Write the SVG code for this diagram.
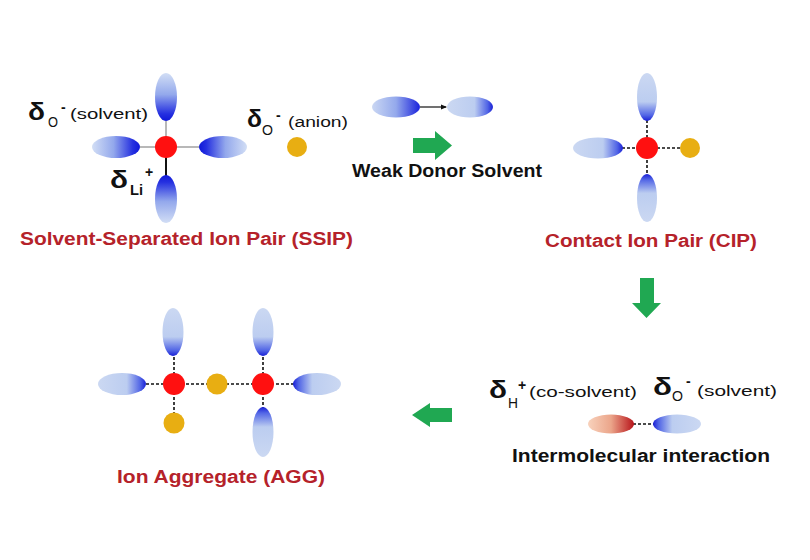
<svg xmlns="http://www.w3.org/2000/svg" width="810" height="560" viewBox="0 0 810 560">
<style>
.d{font-family:"Liberation Sans",Arial,sans-serif;font-weight:bold;font-size:24px;fill:#111}
.sb{font-family:"Liberation Sans",Arial,sans-serif;font-size:14px;fill:#111}
.sbb{font-family:"Liberation Sans",Arial,sans-serif;font-weight:bold;font-size:14px;fill:#111}
.lbl{font-family:"Liberation Sans",Arial,sans-serif;font-weight:bold;font-size:18px}
.red{fill:#b5222a}
.blk{fill:#111}
.li{fill:#ff1010}
.an{fill:#e8ae12}
.gray{stroke:#a0a0a0;stroke-width:1.5;fill:none}
.dash{stroke:#111;stroke-width:1.6;stroke-dasharray:3 2;fill:none}
.green{fill:#20a852}
</style>
<defs>
<linearGradient id="sR" x1="0" y1="0" x2="1" y2="0"><stop offset="0" stop-color="#d2def5"/><stop offset="0.45" stop-color="#93a8ec"/><stop offset="0.85" stop-color="#2530e0"/><stop offset="1" stop-color="#1018d8"/></linearGradient>
<linearGradient id="sL" x1="1" y1="0" x2="0" y2="0"><stop offset="0" stop-color="#d2def5"/><stop offset="0.45" stop-color="#93a8ec"/><stop offset="0.85" stop-color="#2530e0"/><stop offset="1" stop-color="#1018d8"/></linearGradient>
<linearGradient id="sB" x1="0" y1="0" x2="0" y2="1"><stop offset="0" stop-color="#d2def5"/><stop offset="0.45" stop-color="#93a8ec"/><stop offset="0.85" stop-color="#2530e0"/><stop offset="1" stop-color="#1018d8"/></linearGradient>
<linearGradient id="sT" x1="0" y1="1" x2="0" y2="0"><stop offset="0" stop-color="#d2def5"/><stop offset="0.45" stop-color="#93a8ec"/><stop offset="0.85" stop-color="#2530e0"/><stop offset="1" stop-color="#1018d8"/></linearGradient>
<linearGradient id="cR" x1="0" y1="0" x2="1" y2="0"><stop offset="0" stop-color="#cbd8f2"/><stop offset="0.6" stop-color="#bccdf0"/><stop offset="0.88" stop-color="#5266e6"/><stop offset="1" stop-color="#1a20d6"/></linearGradient>
<linearGradient id="cL" x1="1" y1="0" x2="0" y2="0"><stop offset="0" stop-color="#cbd8f2"/><stop offset="0.6" stop-color="#bccdf0"/><stop offset="0.88" stop-color="#5266e6"/><stop offset="1" stop-color="#1a20d6"/></linearGradient>
<linearGradient id="cB" x1="0" y1="0" x2="0" y2="1"><stop offset="0" stop-color="#cbd8f2"/><stop offset="0.6" stop-color="#bccdf0"/><stop offset="0.88" stop-color="#5266e6"/><stop offset="1" stop-color="#1a20d6"/></linearGradient>
<linearGradient id="cT" x1="0" y1="1" x2="0" y2="0"><stop offset="0" stop-color="#cbd8f2"/><stop offset="0.6" stop-color="#bccdf0"/><stop offset="0.88" stop-color="#5266e6"/><stop offset="1" stop-color="#1a20d6"/></linearGradient>
<linearGradient id="mR" x1="0" y1="0" x2="1" y2="0"><stop offset="0" stop-color="#cad7f3"/><stop offset="0.5" stop-color="#94a9ec"/><stop offset="1" stop-color="#1a22dc"/></linearGradient>
<linearGradient id="rR" x1="0" y1="0" x2="1" y2="0"><stop offset="0" stop-color="#f8d2bc"/><stop offset="0.5" stop-color="#eba58a"/><stop offset="1" stop-color="#b8141a"/></linearGradient>
<marker id="ah" markerWidth="6" markerHeight="6" refX="5" refY="3" orient="auto" markerUnits="userSpaceOnUse"><path d="M0,0.5 L6,3 L0,5.5 Z" fill="#111"/></marker>
</defs>
<rect width="810" height="560" fill="#fff"/>

<g id="ssip">
<line class="gray" x1="140" y1="147" x2="199" y2="147"/>
<line class="gray" x1="166" y1="121" x2="166" y2="147"/>
<line x1="166" y1="147" x2="166" y2="176" stroke="#111" stroke-width="2"/>
<ellipse cx="166" cy="97" rx="11" ry="24" fill="url(#sB)"/>
<ellipse cx="116" cy="147" rx="24" ry="11" fill="url(#sR)"/>
<ellipse cx="223" cy="147" rx="24" ry="11" fill="url(#sL)"/>
<ellipse cx="166" cy="199" rx="11" ry="24" fill="url(#sT)"/>
<circle class="li" cx="166" cy="147" r="11"/>
<text class="d" x="28" y="120" textLength="17" lengthAdjust="spacingAndGlyphs">δ</text>
<text class="sb" x="48" y="127" textLength="10" lengthAdjust="spacingAndGlyphs">O</text>
<text class="sbb" x="61" y="112">-</text>
<text class="sb" x="70" y="119" textLength="78" lengthAdjust="spacingAndGlyphs">(solvent)</text>
<text class="d" x="110" y="188" textLength="18" lengthAdjust="spacingAndGlyphs">δ</text>
<text class="sbb" x="130" y="195" font-size="15" textLength="13" lengthAdjust="spacingAndGlyphs">Li</text>
<text class="sbb" x="145" y="177">+</text>
<text class="lbl red" x="20" y="245" textLength="333" lengthAdjust="spacingAndGlyphs">Solvent-Separated Ion Pair (SSIP)</text>
</g>

<g id="anion">
<circle class="an" cx="297" cy="147" r="10"/>
<text class="d" x="247" y="127" textLength="15" lengthAdjust="spacingAndGlyphs">δ</text>
<text class="sb" x="262" y="135" textLength="11" lengthAdjust="spacingAndGlyphs">O</text>
<text class="sbb" x="276" y="120">-</text>
<text class="sb" x="288" y="127" textLength="60" lengthAdjust="spacingAndGlyphs">(anion)</text>
</g>

<g id="weak-donor">
<ellipse cx="396" cy="107" rx="24" ry="10.5" fill="url(#mR)"/>
<ellipse cx="470" cy="107" rx="23" ry="10.5" fill="url(#cR)"/>
<line x1="420" y1="107" x2="446" y2="107" stroke="#111" stroke-width="1.2" marker-end="url(#ah)"/>
<text class="lbl blk" x="352" y="177" textLength="190" lengthAdjust="spacingAndGlyphs">Weak Donor Solvent</text>
</g>

<g id="cip">
<line class="dash" x1="647" y1="120" x2="647" y2="175"/>
<line class="dash" x1="622" y1="148" x2="681" y2="148"/>
<ellipse cx="647" cy="97" rx="10" ry="24" fill="url(#cB)"/>
<ellipse cx="598" cy="148" rx="25" ry="10.5" fill="url(#cR)"/>
<ellipse cx="647" cy="198" rx="10" ry="24" fill="url(#cT)"/>
<circle class="li" cx="647" cy="148" r="11"/>
<circle class="an" cx="690" cy="148" r="10"/>
<text class="lbl red" x="545" y="247" textLength="212" lengthAdjust="spacingAndGlyphs">Contact Ion Pair (CIP)</text>
</g>

<g id="intermolecular">
<line class="dash" x1="633" y1="424" x2="654" y2="424"/>
<ellipse cx="611" cy="424" rx="23" ry="9.5" fill="url(#rR)"/>
<ellipse cx="677" cy="424" rx="24" ry="9.5" fill="url(#cL)"/>
<text class="d" x="489" y="398" textLength="18" lengthAdjust="spacingAndGlyphs">δ</text>
<text class="sb" x="508" y="408" textLength="10" lengthAdjust="spacingAndGlyphs">H</text>
<text class="sbb" x="518" y="390">+</text>
<text class="sb" x="529" y="397" textLength="108" lengthAdjust="spacingAndGlyphs">(co-solvent)</text>
<text class="d" x="653" y="395" textLength="19" lengthAdjust="spacingAndGlyphs">δ</text>
<text class="sb" x="672" y="401" textLength="11" lengthAdjust="spacingAndGlyphs">O</text>
<text class="sbb" x="686" y="386">-</text>
<text class="sb" x="697" y="396" textLength="80" lengthAdjust="spacingAndGlyphs">(solvent)</text>
<text class="lbl blk" x="512" y="462" font-size="17" textLength="258" lengthAdjust="spacingAndGlyphs">Intermolecular interaction</text>
</g>

<g id="agg">
<line class="dash" x1="146" y1="384" x2="294" y2="384"/>
<line class="dash" x1="174" y1="357" x2="174" y2="414"/>
<line class="dash" x1="263" y1="357" x2="263" y2="408"/>
<ellipse cx="122" cy="384" rx="24" ry="11" fill="url(#cR)"/>
<ellipse cx="173" cy="332" rx="10.5" ry="24" fill="url(#cB)"/>
<ellipse cx="263" cy="332" rx="10.5" ry="24" fill="url(#cB)"/>
<ellipse cx="317" cy="384" rx="24" ry="11" fill="url(#cL)"/>
<ellipse cx="263" cy="432" rx="10.5" ry="25" fill="url(#cT)"/>
<circle class="li" cx="174" cy="384" r="11"/>
<circle class="an" cx="217" cy="384" r="10.5"/>
<circle class="li" cx="263" cy="384" r="11"/>
<circle class="an" cx="174" cy="423" r="10.5"/>
<text class="lbl red" x="117" y="483" textLength="208" lengthAdjust="spacingAndGlyphs">Ion Aggregate (AGG)</text>
</g>

<g id="connectors">
<path class="green" d="M413,138 L435,138 L435,131 L452,145.5 L435,160 L435,153 L413,153 Z"/>
<path class="green" d="M640,278 L654,278 L654,303 L661,303 L646.5,318 L632,303 L640,303 Z"/>
<path class="green" d="M452,408 L430,408 L430,403 L412,415 L430,427 L430,422 L452,422 Z"/>
</g>
</svg>
